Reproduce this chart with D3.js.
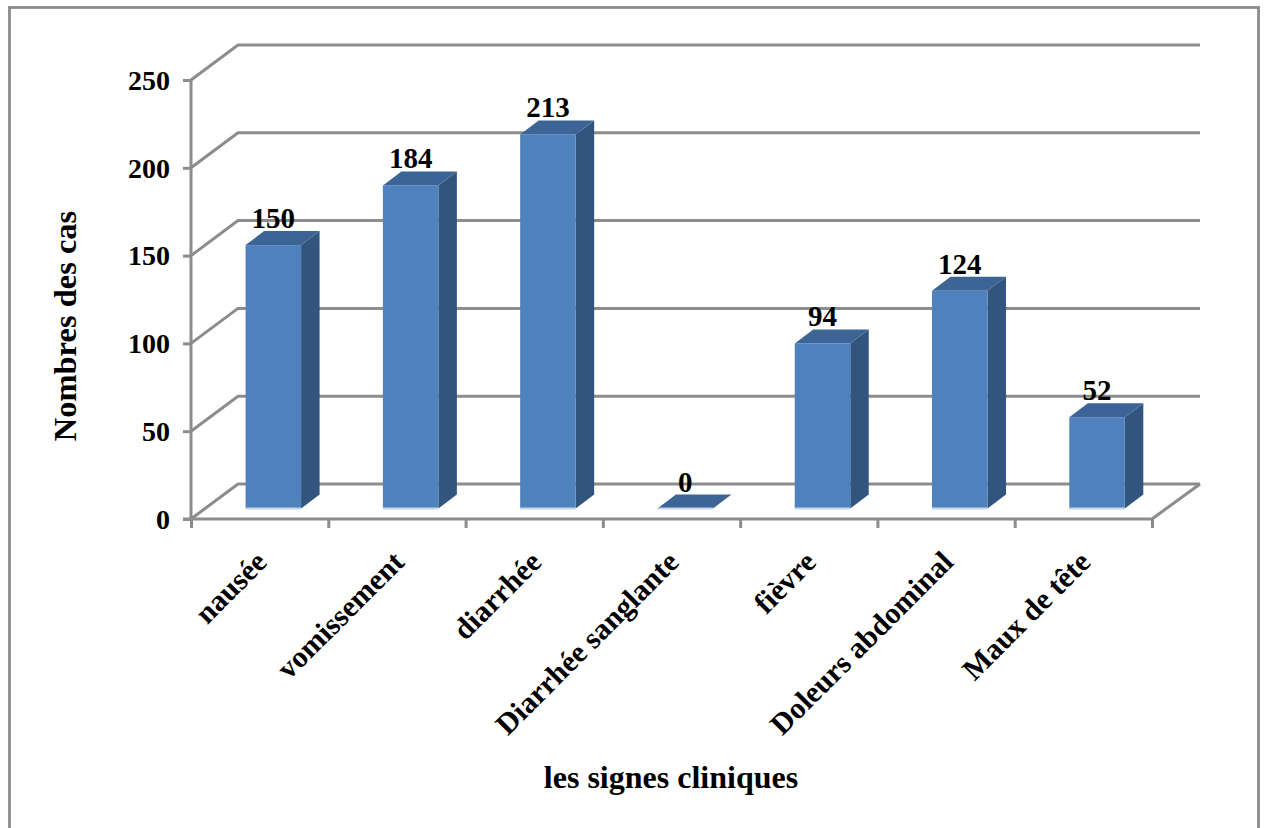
<!DOCTYPE html>
<html>
<head>
<meta charset="utf-8">
<script src="https://cdn.jsdelivr.net/npm/d3@7"></script>
<style>
  html, body { margin: 0; padding: 0; background: #fff; }
  svg { display: block; }
  text { font-family: "Liberation Serif", serif; font-weight: bold; fill: #000; }
</style>
</head>
<body>
<svg id="chart" width="1266" height="828"></svg>
<script>
// Clinical signs and their case counts
const categories = ["nausée", "vomissement", "diarrhée", "Diarrhée sanglante", "fièvre", "Doleurs abdominal", "Maux de tête"];
const cases = [150, 184, 213, 0, 94, 124, 52];
const yTicks = [0, 50, 100, 150, 200, 250];
const yTitle = "Nombres des cas";
const xTitle = "les signes cliniques";

const GRID = "#8c8c8c", FRONT = "#4f81bd", SIDE = "#31557f", TOP = "#3c6494", BASE = "#c6d6ea";

const svg = d3.select("#chart");

// Projection of the box: front plane plus a fixed offset to the back wall
const depth = { x: 47, y: -35 };
const barDepth = { x: 18.5, y: -14 };
const x = d3.scaleBand().domain(categories).range([191, 1152]).paddingInner(0).paddingOuter(0);
const y = d3.scaleLinear().domain([0, 250]).range([519, 80]);
const barLift = 10.5;
const barWidth = 55.5;
const barShift = 13.7;

// Outer frame
svg.append("rect").attr("x", 9.5).attr("y", 7.5).attr("width", 1249).attr("height", 840)
  .attr("fill", "#fff").attr("stroke", GRID).attr("stroke-width", 2.8);

// Gridlines on the back wall and their returns along the side wall
const grid = svg.append("g").attr("fill", "none").attr("stroke", GRID).attr("stroke-width", 3);
grid.selectAll("path").data(yTicks).join("path")
  .attr("d", d => d3.line()([
    [x.range()[0], y(d)],
    [x.range()[0] + depth.x, y(d) + depth.y],
    [x.range()[1] + depth.x + 1, y(d) + depth.y]
  ]));

// Floor edge on the right-hand side
grid.append("path").attr("d", d3.line()([
  [x.range()[1], y(0)],
  [x.range()[1] + depth.x + 1, y(0) + depth.y]
]));

// Axes
const yAxis = d3.axisLeft(y).tickValues(yTicks).tickSize(8).tickPadding(13);
const gy = svg.append("g").attr("transform", `translate(${x.range()[0]},0)`).call(yAxis);
const xEdge = d3.scaleLinear().domain([0, categories.length]).range(x.range());
const xAxis = d3.axisBottom(xEdge).tickValues(d3.range(categories.length + 1)).tickSize(9).tickFormat("");
const gx = svg.append("g").attr("transform", `translate(0,${y(0)})`).call(xAxis);
for (const g of [gx, gy]) {
  g.selectAll(".domain").attr("stroke", GRID).attr("stroke-width", 3);
  g.selectAll(".tick line").attr("stroke", GRID).attr("stroke-width", 3);
}
gy.selectAll(".domain").attr("d", `M0,${y(250)}V${y(0)}`);
gx.selectAll(".domain").attr("d", `M${x.range()[0] - 8},0H${x.range()[1]}`);
gy.selectAll(".tick text").attr("font-size", 28).attr("font-family", "Liberation Serif").attr("font-weight", "bold").attr("fill", "#000").attr("dy", "0.33em");

// Bars: side and top faces behind the front face
const bars = svg.append("g").selectAll("g").data(categories.map((c, i) => ({ c, v: cases[i] }))).join("g");
const bx0 = d => x(d.c) + (x.step() - barWidth) / 2 + barShift;
const btop = d => y(d.v) - barLift;
const bbot = () => y(0) - barLift;

bars.append("path").attr("fill", SIDE).attr("d", d => d3.line()([
  [bx0(d) + barWidth, btop(d)],
  [bx0(d) + barWidth + barDepth.x, btop(d) + barDepth.y],
  [bx0(d) + barWidth + barDepth.x, bbot() + barDepth.y],
  [bx0(d) + barWidth, bbot()]
]) + "Z");
bars.append("path").attr("fill", TOP).attr("d", d => d3.line()([
  [bx0(d), btop(d)],
  [bx0(d) + barDepth.x, btop(d) + barDepth.y],
  [bx0(d) + barWidth + barDepth.x, btop(d) + barDepth.y],
  [bx0(d) + barWidth, btop(d)]
]) + "Z");
bars.append("rect").attr("fill", FRONT)
  .attr("x", bx0).attr("y", btop).attr("width", barWidth).attr("height", d => bbot() - btop(d));
bars.append("rect").attr("fill", BASE)
  .attr("x", bx0).attr("y", bbot() - 1).attr("width", barWidth).attr("height", 2);

// Value labels sit above the top face
bars.append("text").attr("font-size", 29).attr("text-anchor", "middle")
  .attr("x", d => bx0(d) + barWidth / 2)
  .attr("y", d => btop(d) + barDepth.y - 3)
  .text(d => d.v);

// Category labels, rotated and anchored at their end
svg.append("g").selectAll("text").data(categories).join("text")
  .attr("font-size", 30).attr("text-anchor", "end")
  .attr("transform", d => `translate(${x(d) + x.step() / 2 - 6},${y(0) + 30}) rotate(-45)`)
  .attr("dy", "0.7em")
  .text(d => d);

// Axis titles
svg.append("text").attr("font-size", 32.5).attr("text-anchor", "middle")
  .attr("transform", "translate(76,326) rotate(-90)").text(yTitle);
svg.append("text").attr("font-size", 32).attr("text-anchor", "middle")
  .attr("x", 671).attr("y", 788).text(xTitle);
</script>
</body>
</html>
